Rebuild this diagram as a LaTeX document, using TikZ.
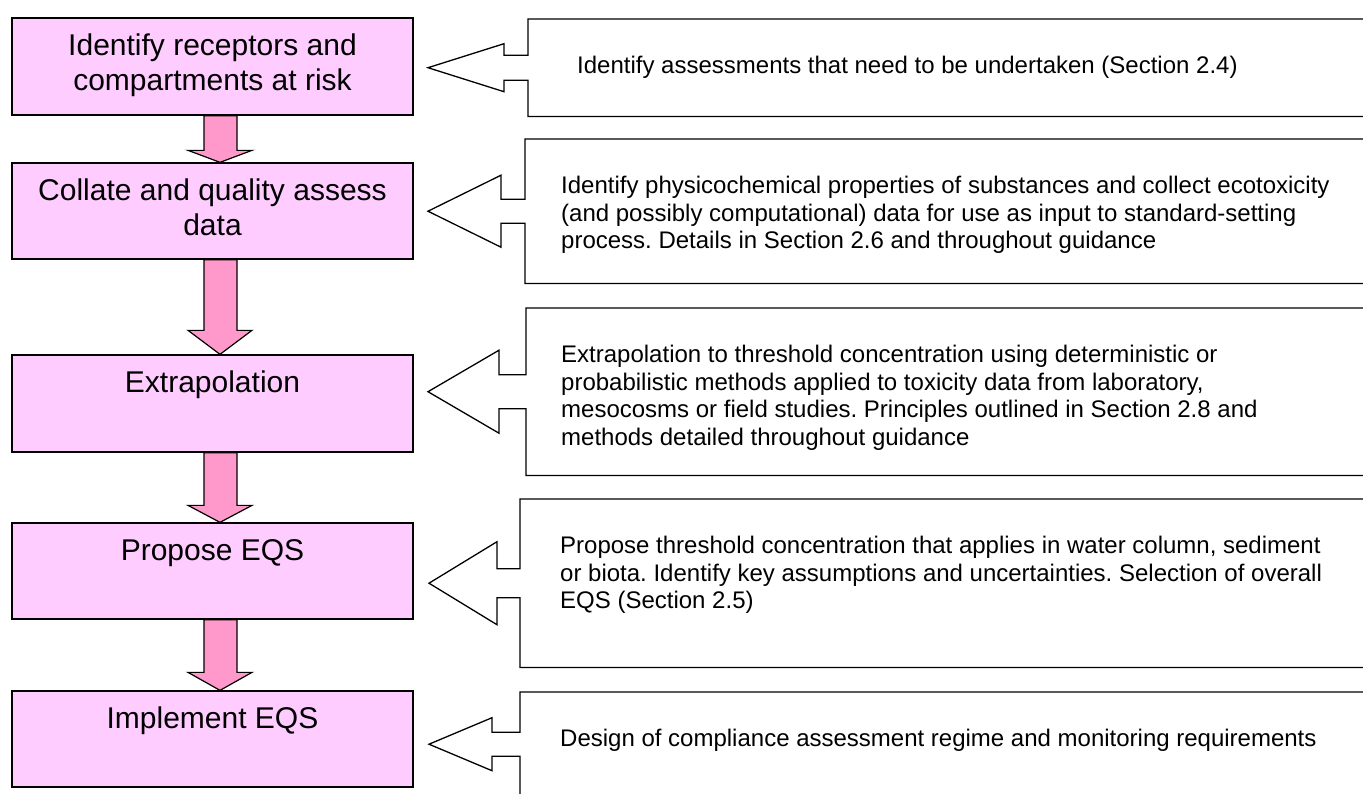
\documentclass[tikz,border=0pt]{standalone}
\usepackage{fontspec}
\setmainfont{Liberation Sans}
\usetikzlibrary{calc}
\frenchspacing

\definecolor{boxpink}{HTML}{FFCCFF}
\definecolor{arrowpink}{HTML}{FF99CC}

% text of the pink step boxes, top aligned
\newcommand{\steptext}[2]{\parbox[t][#1][t]{401pt}{\centering\fontsize{30}{34.5}\selectfont\vspace*{13.5pt}\strut#2}}
% text of the callouts: height, width, left indent, text
\newcommand{\notetext}[4]{\parbox[t][#1][t]{#2}{\raggedright\leftskip=#3\fontsize{24}{27.6}\selectfont\vspace*{35pt}\strut#4}}

\begin{document}
\begin{tikzpicture}[x=1pt, y=-1pt,
    stepbox/.style={draw=black, line width=1.3pt, fill=boxpink, inner sep=0pt},
    notebox/.style={anchor=north west, inner sep=0pt},
    flowarrow/.style={draw=black, line width=1.2pt, fill=arrowpink, line join=miter},
    calloutline/.style={draw=black, line width=1.3pt, line join=miter}]
    \useasboundingbox (0,0) rectangle (1363,793);
    \clip (0,0) rectangle (1363,793);

    % Steps
    \node[stepbox] (identify)  at (212.5,66.5) {\steptext{97pt}{Identify receptors and\\compartments at risk}};
    \node[stepbox] (collate)   at (212.5,211)  {\steptext{96pt}{Collate and quality assess\\data}};
    \node[stepbox] (extrap)    at (212.5,403.5){\steptext{97pt}{Extrapolation}};
    \node[stepbox] (propose)   at (212.5,571)  {\steptext{96pt}{Propose EQS}};
    \node[stepbox] (implement) at (212.5,739)  {\steptext{96pt}{Implement EQS}};

    % Block arrows between the steps
    \foreach \a/\b/\h in {identify/collate/12, collate/extrap/24, extrap/propose/17, propose/implement/18}
        \draw[flowarrow] let \p1=(\a.south), \p2=(\b.north) in
            (\x1-8.5pt,\y1) -- (\x1+24.5pt,\y1) -- (\x1+24.5pt,\y2+\h*1pt) -- (\x1+39.5pt,\y2+\h*1pt)
            -- (\x1+7.5pt,\y2) -- (\x1-24.5pt,\y2+\h*1pt) -- (\x1-8.5pt,\y2+\h*1pt) -- cycle;

    % Callouts
    \node[notebox] (assess)    at (528,19)  {\notetext{97pt}{872pt}{49pt}{Identify assessments that need to be undertaken (Section 2.4)}};
    \node[notebox] (collect)   at (525,139) {\notetext{144pt}{875pt}{36pt}{Identify physicochemical properties of substances and collect ecotoxicity\\(and possibly computational) data for use as input to standard-setting\\process. Details in Section 2.6 and throughout guidance}};
    \node[notebox] (threshold) at (526,308) {\notetext{167pt}{874pt}{35pt}{Extrapolation to threshold concentration using deterministic or\\probabilistic methods applied to toxicity data from laboratory,\\mesocosms or field studies. Principles outlined in Section 2.8 and\\methods detailed throughout guidance}};
    \node[notebox] (overall)   at (520,499) {\notetext{168pt}{880pt}{40pt}{Propose threshold concentration that applies in water column, sediment\\or biota. Identify key assumptions and uncertainties. Selection of overall\\EQS (Section 2.5)}};
    \node[notebox] (comply)    at (520,692) {\notetext{104pt}{880pt}{40pt}{Design of compliance assessment regime and monitoring requirements}};

    % Callout outlines with their arrows pointing at the steps
    \foreach \n/\s/\e/\l/\t in {assess/12.5pt/24pt/24pt/100pt, collect/12pt/36pt/24pt/97pt,
                                threshold/17pt/41.5pt/27pt/98pt, overall/14.5pt/41.5pt/23pt/91pt,
                                comply/12pt/26.5pt/28pt/91pt}
        \draw[calloutline] (\n.north east) -- (\n.north west) -- ([yshift=\s]\n.west)
            -- ([xshift=-\l,yshift=\s]\n.west) -- ([xshift=-\l,yshift=\e]\n.west)
            -- ([xshift=-\t]\n.west)
            -- ([xshift=-\l,yshift=-\e]\n.west) -- ([xshift=-\l,yshift=-\s]\n.west)
            -- ([yshift=-\s]\n.west) -- (\n.south west) -- (\n.south east);
\end{tikzpicture}
\end{document}
